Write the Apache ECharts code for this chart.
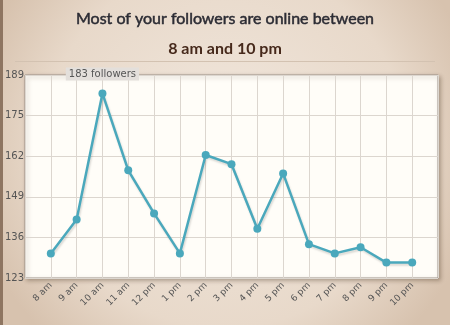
<!DOCTYPE html>
<html>
<head>
<meta charset="utf-8">
<script src="https://cdn.jsdelivr.net/npm/echarts@6/dist/echarts.min.js"></script>
<style>
html,body{margin:0;padding:0;}
#chart{width:450px;height:325px;}
</style>
</head>
<body>
<div id="chart"></div>
<script>
var titleText = 'Most of your followers are online between';
var subtitleText = '8 am and 10 pm';
var categories = ['8 am','9 am','10 am','11 am','12 pm','1 pm','2 pm','3 pm','4 pm','5 pm','6 pm','7 pm','8 pm','9 pm','10 pm'];
var followers = [131, 142, 183, 158, 144, 131, 163, 160, 139, 157, 134, 131, 133, 128, 128];
var yTickLabels = ['123','136','149','162','175','189'];
var yMin = 123, yMax = 189;

var chart = echarts.init(document.getElementById('chart'), null, {renderer:'canvas'});
var seriesData = followers.map(function(v, i){ return [i, v]; });

chart.setOption({
  animation: false,
  backgroundColor: {
    type: 'radial', x: 0.5, y: 0.45, r: 0.8,
    colorStops: [{offset: 0, color: '#f1e7dd'}, {offset: 0.7, color: '#e8d9ca'}, {offset: 1, color: '#d7c2ae'}]
  },
  graphic: [
    {type: 'rect', left: 0, top: 0, shape: {width: 3, height: 325}, style: {fill: '#8e7561'}, silent: true},
    {type: 'line', shape: {x1: 15, y1: 61.5, x2: 435, y2: 61.5}, style: {stroke: '#d3c2b1', lineWidth: 1}, silent: true}
  ],
  title: [
    {text: titleText, left: 'center', top: 6,
     textStyle: {fontFamily: 'Lato', fontSize: 16, fontWeight: 'normal', color: '#2c2c34',
       textBorderColor: '#2c2c34', textBorderWidth: 0.5}},
    {text: subtitleText, left: 'center', top: 36,
     textStyle: {fontFamily: 'Lato', fontSize: 16, fontWeight: 'bold', color: '#46291b'}}
  ],
  grid: {
    left: 25, right: 12, top: 75, bottom: 47,
    show: true, backgroundColor: '#fffdf8', borderColor: '#9c938b', borderWidth: 1,
    shadowColor: 'rgba(60,40,20,0.35)', shadowBlur: 4, shadowOffsetX: 2, shadowOffsetY: 2
  },
  xAxis: {
    type: 'value', min: -1, max: 15, interval: 1,
    axisLine: {show: false}, axisTick: {show: false},
    splitLine: {show: true, lineStyle: {color: '#dcd6cf', width: 1}},
    axisLabel: {
      rotate: 45, margin: 6, fontSize: 9, color: '#555', fontFamily: 'DejaVu Sans',
      showMinLabel: false, showMaxLabel: false,
      formatter: function(v){ return (v >= 0 && v < categories.length) ? categories[v] : ''; }
    }
  },
  yAxis: [
    {type: 'value', min: yMin, max: yMax, show: false, splitLine: {show: false}},
    {type: 'value', min: 0, max: yTickLabels.length - 1, interval: 1, position: 'left',
     axisLine: {show: false}, axisTick: {show: false},
     splitLine: {show: true, lineStyle: {color: '#dcd6cf', width: 1}},
     axisLabel: {margin: 1, fontSize: 10, color: '#555', fontFamily: 'DejaVu Sans',
       formatter: function(v){ return yTickLabels[v]; }}}
  ],
  series: [{
    type: 'line', xAxisIndex: 0, yAxisIndex: 0,
    data: seriesData,
    symbol: 'circle', symbolSize: 8,
    itemStyle: {color: '#4aa8bc'},
    lineStyle: {color: '#4aa8bc', width: 2.5, shadowColor: 'rgba(0,0,0,0.15)', shadowBlur: 2, shadowOffsetX: 1, shadowOffsetY: 2},
    markPoint: {
      symbol: 'rect', symbolSize: 0,
      data: [{type: 'max'}],
      label: {show: true, position: 'top', distance: 13,
        formatter: function(p){ return p.value + ' followers'; },
        backgroundColor: '#e3dfdb', padding: [2, 3, 1, 3], color: '#555', fontSize: 10, fontFamily: 'DejaVu Sans'}
    }
  }]
});
</script>
</body>
</html>
